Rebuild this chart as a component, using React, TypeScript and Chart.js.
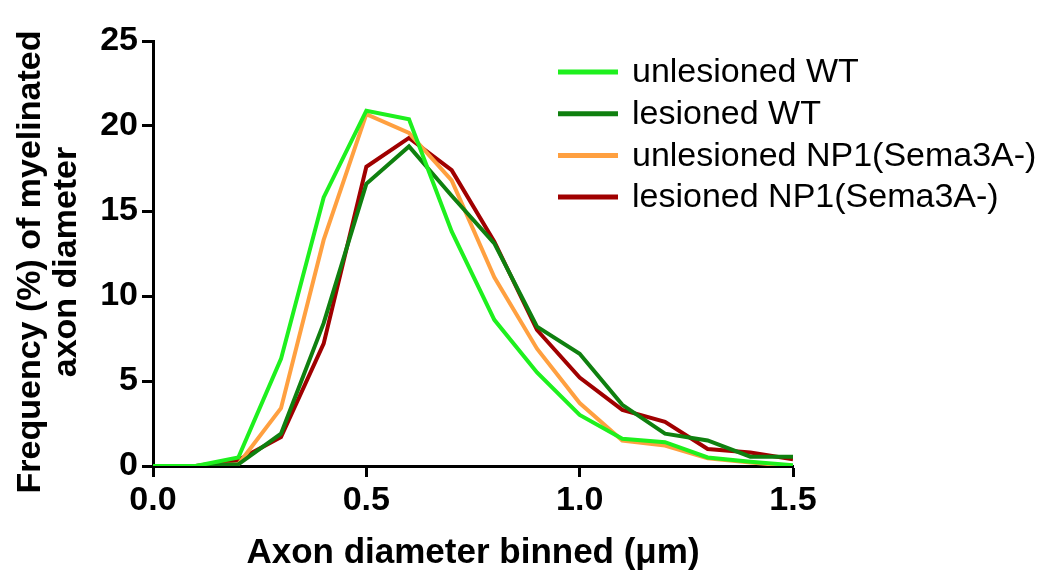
import React, { useEffect, useRef } from "react";
import { Chart, registerables } from "chart.js";

Chart.register(...registerables);

const xValues = [0, 0.1, 0.2, 0.3, 0.4, 0.5, 0.6, 0.7, 0.8, 0.9, 1.0, 1.1, 1.2, 1.3, 1.4, 1.5];
const unlesionedWT = [0, 0, 0.5, 6.3, 15.8, 20.9, 20.4, 13.8, 8.6, 5.5, 3.0, 1.6, 1.4, 0.5, 0.25, 0.05];
const lesionedWT = [0, 0, 0.1, 1.9, 8.4, 16.6, 18.8, 15.9, 13.1, 8.2, 6.6, 3.6, 1.9, 1.5, 0.55, 0.55];
const unlesionedNP1 = [0, 0, 0.1, 3.4, 13.3, 20.7, 19.6, 16.8, 11.1, 6.9, 3.7, 1.5, 1.2, 0.45, 0.2, 0];
const lesionedNP1 = [0, 0, 0.35, 1.7, 7.2, 17.6, 19.3, 17.4, 13.2, 8.0, 5.2, 3.3, 2.6, 1.0, 0.8, 0.4];

const seriesLabels = ["unlesioned WT", "lesioned WT", "unlesioned NP1(Sema3A-)", "lesioned NP1(Sema3A-)"];
const seriesColors = ["#1EF01E", "#0F800F", "#FFA040", "#A00000"];
const seriesValues = [unlesionedWT, lesionedWT, unlesionedNP1, lesionedNP1];

const xTitle = "Axon diameter binned (\u03bcm)";
const yTitle = ["Frequency (%) of myelinated", "axon diameter"];

const FONT = '"Liberation Sans", Arial, Helvetica, sans-serif';

const legendAndTitles = {
  id: "legendAndTitles",
  afterDraw(chart: any) {
    const ctx = chart.ctx;
    const area = chart.chartArea;
    ctx.save();
    // legend
    const x0 = 550;
    const y0 = 64;
    const dy = 41.7;
    chart.data.datasets.forEach((ds: any, i: number) => {
      const y = y0 + i * dy;
      ctx.strokeStyle = ds.borderColor;
      ctx.lineWidth = 5;
      ctx.beginPath();
      ctx.moveTo(x0, y);
      ctx.lineTo(x0 + 60, y);
      ctx.stroke();
      ctx.fillStyle = "#000";
      ctx.font = `34px ${FONT}`;
      ctx.textBaseline = "middle";
      ctx.textAlign = "left";
      ctx.fillText(ds.label, x0 + 74, y + 1);
    });
    // x title
    ctx.fillStyle = "#000";
    ctx.font = `bold 35px ${FONT}`;
    ctx.textAlign = "center";
    ctx.textBaseline = "middle";
    ctx.fillText(xTitle, (area.left + area.right) / 2, 545);
    // y title
    ctx.translate(0, 254);
    ctx.rotate(-Math.PI / 2);
    ctx.font = `bold 34px ${FONT}`;
    ctx.fillText(yTitle[0], 0, 23);
    ctx.fillText(yTitle[1], 0, 59);
    ctx.restore();
  },
};

export default function App() {
  const ref = useRef<HTMLCanvasElement | null>(null);
  useEffect(() => {
    document.body.style.margin = "0";
    if (!ref.current) return;
    const chart = new Chart(ref.current, {
      type: "line",
      data: {
        datasets: seriesValues.map((vals, i) => ({
          label: seriesLabels[i],
          data: xValues.map((x, j) => ({ x, y: vals[j] })),
          borderColor: seriesColors[i],
          backgroundColor: seriesColors[i],
          borderWidth: 4,
          pointRadius: 0,
          tension: 0,
          fill: false,
        })),
      },
      options: {
        responsive: false,
        animation: false,
        devicePixelRatio: 1,
        layout: { padding: { top: 33, right: 245, left: 0, bottom: 0 } },
        plugins: { legend: { display: false }, tooltip: { enabled: false } },
        scales: {
          x: {
            type: "linear",
            min: 0,
            max: 1.5,
            afterFit: (s: any) => { s.height = 104; },
            border: { color: "#000", width: 3 },
            grid: { drawOnChartArea: false, drawTicks: true, tickLength: 11, tickWidth: 3, tickColor: "#000" },
            ticks: {
              stepSize: 0.5,
              color: "#000",
              padding: 3,
              font: { family: FONT, size: 34, weight: "bold" },
              callback: (v: any) => Number(v).toFixed(1),
            },
            title: { display: false },
          },
          y: {
            type: "linear",
            min: 0,
            max: 25,
            afterFit: (s: any) => { s.width = 145; },
            border: { color: "#000", width: 3 },
            grid: { drawOnChartArea: false, drawTicks: true, tickLength: 11, tickWidth: 3, tickColor: "#000" },
            ticks: {
              stepSize: 5,
              color: "#000",
              padding: 4,
              font: { family: FONT, size: 34, weight: "bold" },
              callback: (v: any) => String(v),
            },
            title: { display: false },
          },
        },
      },
      plugins: [legendAndTitles],
    });
    return () => chart.destroy();
  }, []);
  return (
    <div style={{ width: 1046, height: 570, padding: 8, boxSizing: "border-box", overflow: "hidden" }}>
      <canvas ref={ref} width={1030} height={562} style={{ display: "block" }} />
    </div>
  );
}
